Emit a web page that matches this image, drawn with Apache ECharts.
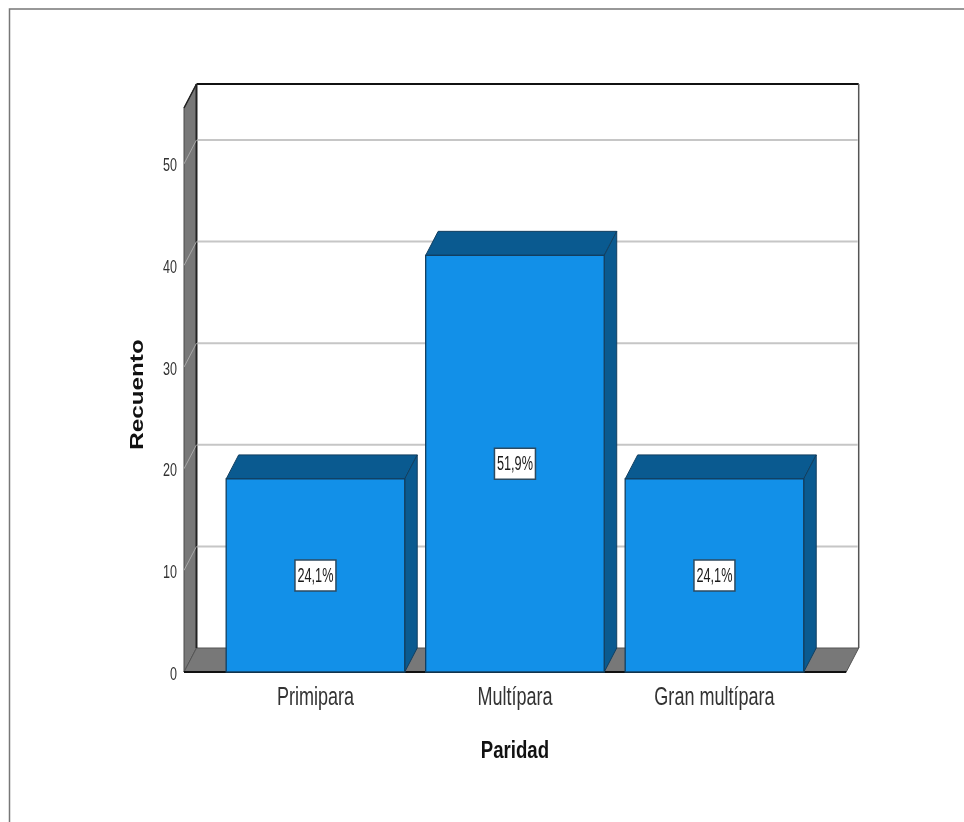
<!DOCTYPE html>
<html>
<head>
<meta charset="utf-8">
<style>html,body{margin:0;padding:0;background:#fff}#chart{width:964px;height:822px}</style>
<script src="https://cdn.jsdelivr.net/npm/echarts@6/dist/echarts.min.js"></script>
</head>
<body>
<div id="chart"></div>
<script>
// Paridad: recuento por categoría, con el porcentaje rotulado en cada barra
const categories = ['Primipara', 'Multípara', 'Gran multípara'];
const counts = [19, 41, 19];
const percentLabels = ['24,1%', '51,9%', '24,1%'];
const tickValues = [0, 10, 20, 30, 40, 50];
const xTitle = 'Paridad';
const yTitle = 'Recuento';

const SANS = '"Liberation Sans",Arial,sans-serif';
const DEPTH_X = 12.5, DEPTH_Y = -24;      // desplazamiento del efecto 3D
const WALL_LEFT = 31.7, WALL_RIGHT = 32;  // el suelo sobresale de las bandas de categoría
const FRONT = '#1290e8', SHADE = '#0a5a90', EDGE = '#123f60', WALL = '#787878';

function poly(points, style) {
  return { type: 'polygon', shape: { points }, style };
}
function seg(x1, y1, x2, y2, stroke, lineWidth) {
  return { type: 'line', shape: { x1, y1, x2, y2 }, style: { stroke, lineWidth } };
}
// Texto condensado u horizontalmente ampliado mediante escala
function label(text, x, y, size, scaleX, fill, opts) {
  const o = opts || {};
  return {
    type: 'text', x, y, scaleX, scaleY: 1, rotation: o.rotation || 0,
    style: {
      x: 0, y: 0, text, fill,
      align: o.align || 'center', verticalAlign: 'middle',
      font: (o.bold ? 'bold ' : '') + size + 'px ' + SANS
    }
  };
}

// Paredes y suelo de la caja
function renderWalls(params) {
  const cs = params.coordSys;
  const x0 = cs.x - WALL_LEFT, x1 = cs.x + cs.width + WALL_RIGHT;
  const top = cs.y, bottom = cs.y + cs.height;
  const bx0 = x0 + DEPTH_X, bx1 = x1 + DEPTH_X;
  return {
    type: 'group',
    children: [
      poly([[x0, top], [bx0, top + DEPTH_Y], [bx0, bottom + DEPTH_Y], [x0, bottom]], { fill: WALL, stroke: '#4a4a4a', lineWidth: 1 }),
      poly([[x0, bottom], [bx0, bottom + DEPTH_Y], [bx1, bottom + DEPTH_Y], [x1, bottom]], { fill: WALL, stroke: '#555', lineWidth: 1 }),
      seg(x0, top, bx0, top + DEPTH_Y, '#222', 1.5),
      seg(bx0, top + DEPTH_Y, bx1, top + DEPTH_Y, '#111', 2),
      seg(bx0, top + DEPTH_Y, bx0, bottom + DEPTH_Y, '#222', 2),
      seg(bx1, top + DEPTH_Y, bx1, bottom + DEPTH_Y, '#555', 1.5),
      seg(x0, bottom, x1, bottom, '#111', 2)
    ]
  };
}

// Líneas de cuadrícula sobre el fondo y su continuación en la pared lateral
function renderGrid(params, api) {
  const cs = params.coordSys;
  const y = api.coord([0, api.value(0)])[1];
  const x0 = cs.x - WALL_LEFT, bx0 = x0 + DEPTH_X, bx1 = cs.x + cs.width + WALL_RIGHT + DEPTH_X;
  return {
    type: 'group',
    children: [
      seg(bx0 + 1, y + DEPTH_Y, bx1 - 1, y + DEPTH_Y, '#c6c6c6', 2),
      seg(x0, y, bx0, y + DEPTH_Y, '#a8a8a8', 1)
    ]
  };
}

// Barra con cara frontal, superior y lateral
function renderBar(params, api) {
  const i = api.value(0);
  const v = api.value(1);
  const base = api.coord([i, 0]);
  const tip = api.coord([i, v]);
  const w = api.size([1, 0])[0] * 0.895;
  const l = base[0] - w / 2, r = base[0] + w / 2;
  const t = tip[1], b = base[1];
  const mid = api.coord([i, v / 2]);
  const shadeStyle = { fill: SHADE, stroke: EDGE, lineWidth: 1 };
  return {
    type: 'group',
    children: [
      poly([[l, t], [l + DEPTH_X, t + DEPTH_Y], [r + DEPTH_X, t + DEPTH_Y], [r, t]], shadeStyle),
      poly([[r, t], [r + DEPTH_X, t + DEPTH_Y], [r + DEPTH_X, b + DEPTH_Y], [r, b]], shadeStyle),
      { type: 'rect', shape: { x: l, y: t, width: r - l, height: b - t }, style: { fill: FRONT, stroke: EDGE, lineWidth: 1.3 } },
      { type: 'rect', shape: { x: mid[0] - 20.5, y: mid[1] - 15.5, width: 41, height: 31 }, style: { fill: '#fff', stroke: '#2c4a60', lineWidth: 1.5 } },
      label(percentLabels[i], mid[0], mid[1] + 1, 19.5, 0.65, '#1a1a1a')
    ]
  };
}

// Rótulos de categoría bajo cada barra
function renderCategoryLabel(params, api) {
  const i = api.value(0);
  const p = api.coord([i, 0]);
  return label(categories[i], p[0], p[1] + 26, 26.5, 0.68, '#333');
}

// Rótulos numéricos del eje de recuento
function renderTickLabel(params, api) {
  const cs = params.coordSys;
  const p = api.coord([0, api.value(0)]);
  return label(String(api.value(0)), cs.x - WALL_LEFT - 7, p[1] + 2.5, 18.5, 0.68, '#333', { align: 'right' });
}

// Títulos de los ejes
function renderTitles(params) {
  const cs = params.coordSys;
  return {
    type: 'group',
    children: [
      label(xTitle, cs.x + cs.width / 2, cs.y + cs.height + 79, 24.5, 0.76, '#111', { bold: true }),
      label(yTitle, cs.x - 77.5, cs.y + cs.height / 2 + 4.5, 18.5, 1.31, '#111', { bold: true, rotation: Math.PI / 2 })
    ]
  };
}

const chart = echarts.init(document.getElementById('chart'), null, { renderer: 'canvas' });
chart.setOption({
  animation: false,
  backgroundColor: '#fff',
  grid: { left: 215.7, top: 108, width: 598.5, height: 564 },
  xAxis: {
    type: 'category',
    data: categories,
    axisLine: { show: false },
    axisTick: { show: false },
    axisLabel: { show: false }
  },
  yAxis: {
    type: 'value',
    min: 0,
    max: 55.5,
    interval: 10,
    axisLine: { show: false },
    axisTick: { show: false },
    splitLine: { show: false },
    axisLabel: { show: false }
  },
  graphic: [
    { type: 'polyline', silent: true, z: 100, shape: { points: [[9.5, 822], [9.5, 9], [964, 9]] }, style: { stroke: '#777', lineWidth: 1.5, fill: null } }
  ],
  series: [
    { type: 'custom', silent: true, z: 1, renderItem: renderWalls, data: [[0]], clip: false },
    { type: 'custom', silent: true, z: 2, renderItem: renderGrid, data: tickValues.slice(1).map(v => [v]), encode: { y: 0 }, clip: false },
    { type: 'custom', silent: true, z: 3, renderItem: renderBar, data: counts.map((c, i) => [i, c]), encode: { x: 0, y: 1 }, clip: false },
    { type: 'custom', silent: true, z: 4, renderItem: renderCategoryLabel, data: categories.map((c, i) => [i]), encode: { x: 0 }, clip: false },
    { type: 'custom', silent: true, z: 4, renderItem: renderTickLabel, data: tickValues.map(v => [v]), encode: { y: 0 }, clip: false },
    { type: 'custom', silent: true, z: 4, renderItem: renderTitles, data: [[0]], clip: false }
  ]
});
</script>
</body>
</html>
